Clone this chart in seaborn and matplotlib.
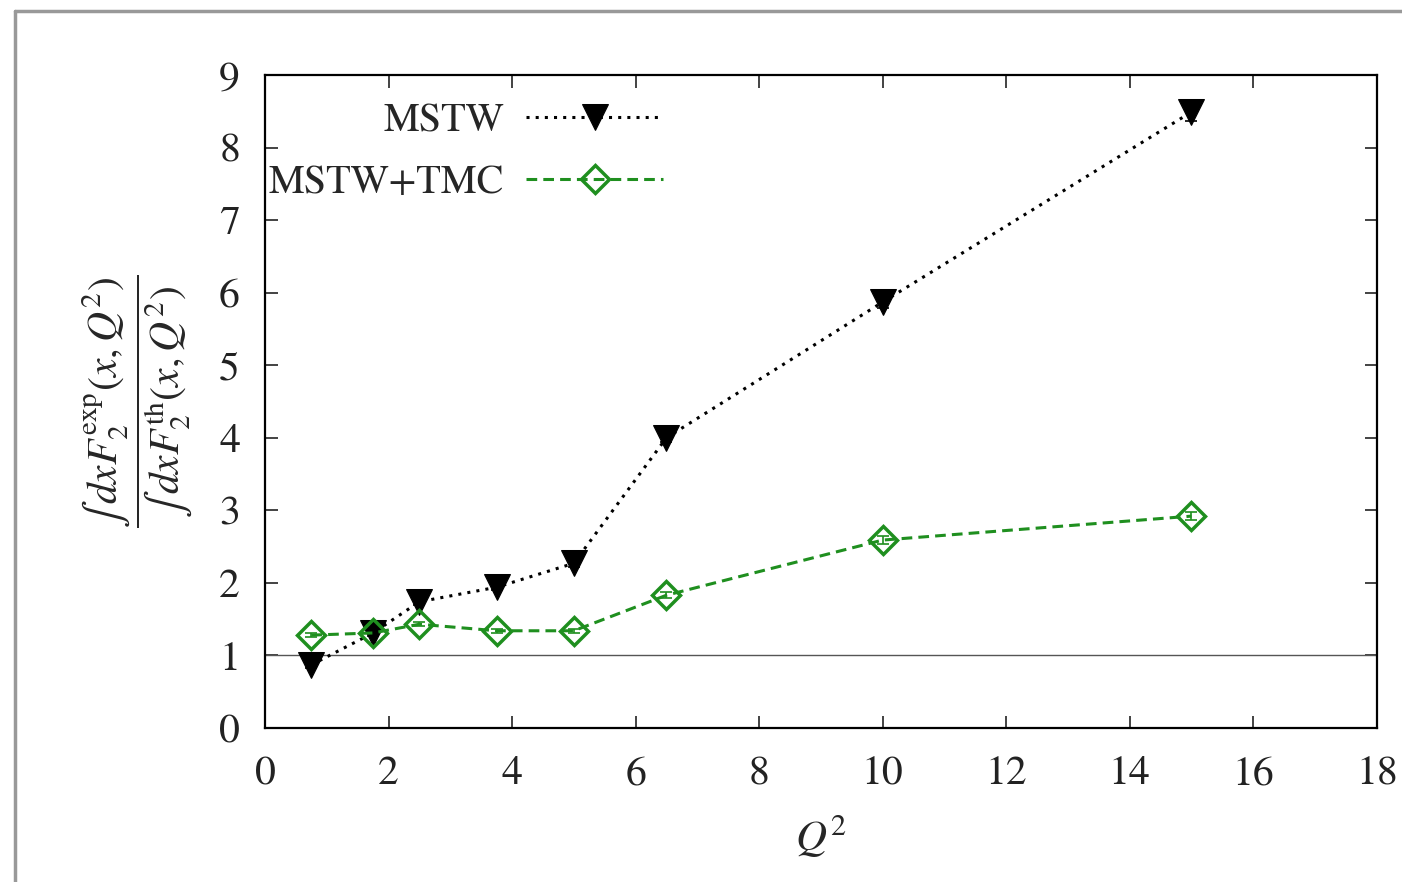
import numpy as np
import pandas as pd
import seaborn as sns
import matplotlib.pyplot as plt
from matplotlib.lines import Line2D

# values
q2 = [0.75, 1.75, 2.5, 3.75, 5.0, 6.5, 10.0, 15.0]
mstw = [0.87, 1.31, 1.74, 1.94, 2.27, 4.0, 5.87, 8.49]
mstw_err = [0.04, 0.04, 0.04, 0.04, 0.05, 0.06, 0.08, 0.13]
tmc = [1.28, 1.31, 1.43, 1.34, 1.34, 1.83, 2.59, 2.92]
tmc_err = [0.03, 0.03, 0.03, 0.03, 0.03, 0.04, 0.05, 0.06]

df = pd.DataFrame({"Q2": q2 + q2,
                   "ratio": mstw + tmc,
                   "err": mstw_err + tmc_err,
                   "model": ["MSTW"] * len(q2) + ["MSTW+TMC"] * len(q2)})

sns.set_theme(style="ticks")
plt.rcParams["font.family"] = "serif"
plt.rcParams["font.serif"] = ["STIXGeneral", "Liberation Serif", "DejaVu Serif"]
plt.rcParams["mathtext.fontset"] = "stix"
plt.rcParams["font.size"] = 28

green = "#1f8f1f"
fig = plt.figure(figsize=(14.02, 8.82), dpi=100)
ax = fig.add_axes([0.189, 0.1746, 0.793, 0.7404])

ax.axhline(1, color="#555555", lw=1.0, zorder=1)

sub = df[df.model == "MSTW"]
ax.errorbar(sub.Q2, sub.ratio, yerr=sub.err, fmt="none", ecolor="black",
            elinewidth=1.2, capsize=4, capthick=1.2, zorder=2)
sns.lineplot(data=sub, x="Q2", y="ratio", ax=ax, color="black", lw=2.2,
             linestyle=(0, (1, 2)), marker="v", markersize=19,
             markeredgecolor="black", label="MSTW", zorder=3)

sub = df[df.model == "MSTW+TMC"]
ax.errorbar(sub.Q2, sub.ratio, yerr=sub.err, fmt="none", ecolor=green,
            elinewidth=1.2, capsize=4, capthick=1.2, zorder=2)
sns.lineplot(data=sub, x="Q2", y="ratio", ax=ax, color=green, lw=2.2,
             linestyle=(0, (3.5, 2)), marker="D", markersize=14,
             markerfacecolor="none", markeredgecolor=green,
             markeredgewidth=2.5, label="MSTW+TMC", zorder=3)

ax.set_xlim(0, 18)
ax.set_ylim(0, 9)
ax.set_xticks(range(0, 19, 2))
ax.set_yticks(range(0, 10))
ax.tick_params(direction="in", length=9, width=1.2, top=True, right=True,
               labelsize=30, colors="#222222")
ax.tick_params(axis="x", pad=20)
ax.tick_params(axis="y", pad=18)
for s in ax.spines.values():
    s.set_linewidth(1.6)
    s.set_color("black")

ax.set_xlabel("$Q^2$", fontsize=31, labelpad=14)
ax.set_ylabel(r"$\dfrac{\int\, dx F_2^{\mathrm{exp}}(x,Q^2)}{\int\, dx F_2^{\mathrm{th}}(x,Q^2)}$",
              fontsize=30, labelpad=18)

leg = ax.legend(loc="upper left", bbox_to_anchor=(-0.022, 1.0), markerfirst=False,
                frameon=False, fontsize=29, handlelength=3.4, handletextpad=0.55,
                labelspacing=0.6, borderaxespad=0.3)

# gray page frame
fig.add_artist(Line2D([0.011, 1.0], [0.988, 0.988], color="#999999", lw=2.5))
fig.add_artist(Line2D([0.011, 0.011], [0.0, 0.988], color="#999999", lw=2.5))

fig.savefig("out.png", dpi=100)
